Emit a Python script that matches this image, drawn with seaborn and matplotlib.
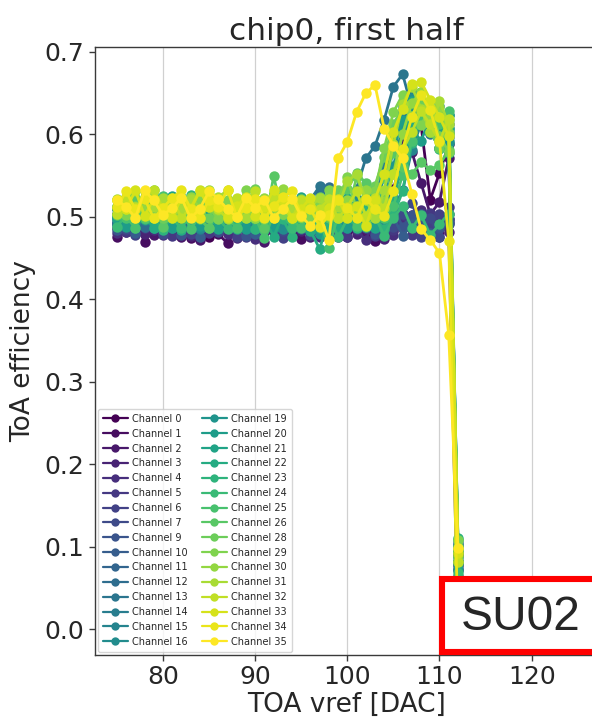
import matplotlib
matplotlib.use("Agg")
import matplotlib.pyplot as plt
from matplotlib.lines import Line2D
from matplotlib.patches import Rectangle
import numpy as np
import pandas as pd
import seaborn as sns

# TOA vref scan points [DAC]
vref = list(range(75, 113))

# ToA efficiency per channel, one value per vref step (75 ... 112)
ch0 = [0.487, 0.501, 0.479, 0.492, 0.503, 0.488, 0.509, 0.481, 0.494, 0.499, 0.476, 0.490, 0.505, 0.486, 0.478, 0.497, 0.489, 0.511, 0.484, 0.480, 0.498, 0.486,
       0.502, 0.491, 0.477, 0.496, 0.488, 0.503, 0.487, 0.512, 0.534, 0.572, 0.603, 0.611, 0.521, 0.553, 0.588, 0.078]
ch1 = [0.476, 0.489, 0.497, 0.469, 0.491, 0.481, 0.500, 0.486, 0.474, 0.493, 0.498, 0.479, 0.468, 0.487, 0.496, 0.475, 0.488, 0.482, 0.501, 0.484, 0.473, 0.490,
       0.481, 0.492, 0.499, 0.476, 0.487, 0.479, 0.471, 0.490, 0.483, 0.494, 0.502, 0.478, 0.489, 0.480, 0.497, 0.072]
ch2 = [0.503, 0.482, 0.491, 0.512, 0.478, 0.497, 0.488, 0.475, 0.501, 0.472, 0.486, 0.499, 0.481, 0.493, 0.508, 0.487, 0.470, 0.492, 0.504, 0.477, 0.489, 0.496,
       0.485, 0.501, 0.476, 0.493, 0.507, 0.484, 0.479, 0.498, 0.558, 0.592, 0.579, 0.541, 0.503, 0.518, 0.571, 0.091]
ch3 = [0.491, 0.498, 0.486, 0.479, 0.502, 0.507, 0.484, 0.496, 0.477, 0.489, 0.503, 0.485, 0.509, 0.474, 0.492, 0.500, 0.481, 0.497, 0.488, 0.506, 0.483, 0.476,
       0.499, 0.474, 0.488, 0.501, 0.479, 0.486, 0.497, 0.473, 0.490, 0.503, 0.485, 0.477, 0.492, 0.498, 0.481, 0.003]
ch4 = [0.480, 0.497, 0.489, 0.503, 0.484, 0.478, 0.499, 0.510, 0.487, 0.475, 0.501, 0.490, 0.479, 0.496, 0.486, 0.473, 0.507, 0.491, 0.477, 0.488, 0.502, 0.485,
       0.476, 0.493, 0.504, 0.511, 0.484, 0.472, 0.498, 0.489, 0.478, 0.492, 0.501, 0.508, 0.483, 0.476, 0.494, 0.083]
ch5 = [0.493, 0.481, 0.508, 0.486, 0.499, 0.490, 0.477, 0.495, 0.510, 0.497, 0.480, 0.488, 0.504, 0.491, 0.476, 0.500, 0.485, 0.502, 0.479, 0.498, 0.487, 0.509,
       0.490, 0.503, 0.486, 0.475, 0.499, 0.492, 0.511, 0.497, 0.484, 0.502, 0.478, 0.491, 0.505, 0.487, 0.512, 0.102]
ch6 = [0.509, 0.487, 0.478, 0.500, 0.492, 0.504, 0.511, 0.485, 0.479, 0.498, 0.513, 0.501, 0.489, 0.476, 0.497, 0.510, 0.502, 0.486, 0.474, 0.499, 0.512, 0.490,
       0.503, 0.488, 0.514, 0.499, 0.485, 0.501, 0.477, 0.492, 0.505, 0.486, 0.497, 0.475, 0.489, 0.503, 0.491, 0.064]
ch7 = [0.498, 0.485, 0.503, 0.514, 0.496, 0.479, 0.490, 0.505, 0.487, 0.512, 0.493, 0.481, 0.500, 0.488, 0.506, 0.484, 0.515, 0.497, 0.483, 0.510, 0.501, 0.478,
       0.516, 0.497, 0.484, 0.509, 0.502, 0.487, 0.499, 0.513, 0.488, 0.504, 0.517, 0.486, 0.498, 0.476, 0.503, 0.088]
ch9 = [0.484, 0.502, 0.513, 0.488, 0.499, 0.493, 0.506, 0.478, 0.491, 0.503, 0.486, 0.515, 0.490, 0.501, 0.477, 0.489, 0.507, 0.485, 0.512, 0.494, 0.500, 0.482,
       0.505, 0.492, 0.501, 0.514, 0.487, 0.499, 0.479, 0.493, 0.511, 0.488, 0.502, 0.490, 0.478, 0.486, 0.497, 0.081]
ch10 = [0.492, 0.505, 0.480, 0.498, 0.487, 0.514, 0.501, 0.489, 0.503, 0.476, 0.497, 0.486, 0.508, 0.516, 0.490, 0.479, 0.502, 0.513, 0.488, 0.499, 0.485, 0.517,
        0.503, 0.521, 0.489, 0.506, 0.492, 0.511, 0.498, 0.484, 0.500, 0.477, 0.491, 0.503, 0.480, 0.489, 0.492, 0.097]
ch11 = [0.511, 0.499, 0.488, 0.504, 0.515, 0.490, 0.502, 0.512, 0.486, 0.497, 0.514, 0.491, 0.505, 0.487, 0.513, 0.500, 0.489, 0.503, 0.516, 0.486, 0.498, 0.502,
        0.491, 0.514, 0.499, 0.487, 0.512, 0.501, 0.490, 0.503, 0.524, 0.563, 0.598, 0.621, 0.603, 0.584, 0.612, 0.074]
ch12 = [0.502, 0.514, 0.497, 0.488, 0.505, 0.516, 0.499, 0.486, 0.511, 0.503, 0.490, 0.501, 0.517, 0.498, 0.487, 0.504, 0.513, 0.496, 0.507, 0.489, 0.515, 0.500,
        0.528, 0.536, 0.512, 0.499, 0.491, 0.503, 0.522, 0.551, 0.592, 0.628, 0.641, 0.619, 0.602, 0.608, 0.597, 0.093]
ch13 = [0.495, 0.503, 0.512, 0.499, 0.488, 0.506, 0.514, 0.497, 0.490, 0.508, 0.515, 0.501, 0.489, 0.511, 0.498, 0.487, 0.504, 0.516, 0.493, 0.502, 0.513, 0.521,
        0.537, 0.512, 0.503, 0.515, 0.534, 0.571, 0.586, 0.618, 0.658, 0.673, 0.632, 0.618, 0.601, 0.612, 0.624, 0.104]
ch14 = [0.501, 0.489, 0.504, 0.515, 0.498, 0.486, 0.512, 0.503, 0.497, 0.485, 0.506, 0.516, 0.491, 0.500, 0.514, 0.502, 0.488, 0.499, 0.523, 0.505, 0.490, 0.497,
        0.511, 0.502, 0.487, 0.501, 0.513, 0.499, 0.521, 0.563, 0.604, 0.637, 0.652, 0.629, 0.611, 0.618, 0.603, 0.082]
ch15 = [0.512, 0.500, 0.491, 0.509, 0.497, 0.513, 0.487, 0.502, 0.516, 0.499, 0.510, 0.488, 0.503, 0.514, 0.496, 0.485, 0.511, 0.501, 0.490, 0.515, 0.498, 0.486,
        0.499, 0.512, 0.501, 0.489, 0.504, 0.516, 0.497, 0.488, 0.509, 0.532, 0.581, 0.613, 0.622, 0.634, 0.608, 0.108]
ch16 = [0.498, 0.512, 0.503, 0.496, 0.487, 0.505, 0.517, 0.521, 0.499, 0.486, 0.504, 0.513, 0.497, 0.489, 0.510, 0.501, 0.519, 0.496, 0.485, 0.503, 0.514, 0.499,
        0.488, 0.501, 0.515, 0.499, 0.522, 0.503, 0.512, 0.548, 0.597, 0.633, 0.644, 0.621, 0.604, 0.583, 0.592, 0.087]
ch19 = [0.490, 0.509, 0.501, 0.513, 0.497, 0.485, 0.502, 0.514, 0.498, 0.522, 0.504, 0.489, 0.511, 0.496, 0.487, 0.503, 0.515, 0.499, 0.524, 0.501, 0.488, 0.512,
        0.497, 0.509, 0.489, 0.502, 0.514, 0.499, 0.523, 0.511, 0.562, 0.608, 0.634, 0.652, 0.627, 0.601, 0.589, 0.099]
ch20 = [0.503, 0.488, 0.512, 0.497, 0.521, 0.501, 0.486, 0.510, 0.499, 0.489, 0.504, 0.523, 0.498, 0.511, 0.485, 0.502, 0.513, 0.487, 0.500, 0.514, 0.497, 0.484,
        0.479, 0.498, 0.513, 0.486, 0.501, 0.515, 0.497, 0.524, 0.583, 0.618, 0.607, 0.592, 0.621, 0.603, 0.578, 0.071]
ch21 = [0.497, 0.511, 0.486, 0.503, 0.514, 0.499, 0.525, 0.501, 0.488, 0.512, 0.502, 0.485, 0.498, 0.521, 0.503, 0.514, 0.487, 0.499, 0.512, 0.496, 0.524, 0.503,
        0.512, 0.487, 0.501, 0.523, 0.510, 0.498, 0.486, 0.511, 0.553, 0.602, 0.641, 0.632, 0.618, 0.597, 0.623, 0.093]
ch22 = [0.509, 0.498, 0.521, 0.502, 0.486, 0.513, 0.499, 0.484, 0.511, 0.503, 0.523, 0.497, 0.512, 0.485, 0.501, 0.522, 0.498, 0.476, 0.502, 0.514, 0.497, 0.483,
        0.461, 0.499, 0.487, 0.511, 0.502, 0.524, 0.509, 0.498, 0.521, 0.568, 0.612, 0.628, 0.603, 0.619, 0.607, 0.079]
ch23 = [0.502, 0.523, 0.497, 0.511, 0.499, 0.484, 0.503, 0.514, 0.526, 0.498, 0.487, 0.501, 0.513, 0.496, 0.524, 0.485, 0.500, 0.512, 0.497, 0.476, 0.503, 0.515,
        0.498, 0.486, 0.513, 0.501, 0.487, 0.512, 0.499, 0.485, 0.502, 0.531, 0.589, 0.622, 0.613, 0.582, 0.601, 0.111]
ch24 = [0.488, 0.502, 0.514, 0.497, 0.524, 0.511, 0.499, 0.486, 0.503, 0.512, 0.526, 0.498, 0.485, 0.501, 0.513, 0.497, 0.484, 0.511, 0.502, 0.487, 0.514, 0.499,
        0.486, 0.503, 0.475, 0.498, 0.512, 0.488, 0.501, 0.477, 0.499, 0.513, 0.486, 0.502, 0.478, 0.491, 0.504, 0.068]
ch25 = [0.512, 0.499, 0.487, 0.513, 0.501, 0.525, 0.498, 0.511, 0.485, 0.502, 0.514, 0.523, 0.499, 0.486, 0.512, 0.500, 0.474, 0.503, 0.515, 0.497, 0.486, 0.511,
        0.498, 0.462, 0.503, 0.514, 0.489, 0.502, 0.522, 0.499, 0.513, 0.551, 0.592, 0.623, 0.641, 0.612, 0.628, 0.094]
ch26 = [0.502, 0.514, 0.523, 0.499, 0.512, 0.488, 0.503, 0.524, 0.511, 0.497, 0.486, 0.513, 0.501, 0.522, 0.498, 0.511, 0.487, 0.549, 0.503, 0.514, 0.499, 0.521,
        0.512, 0.498, 0.521, 0.534, 0.553, 0.541, 0.528, 0.547, 0.578, 0.561, 0.552, 0.566, 0.557, 0.563, 0.581, 0.101]
ch28 = [0.513, 0.524, 0.501, 0.511, 0.532, 0.499, 0.512, 0.503, 0.522, 0.509, 0.498, 0.523, 0.511, 0.500, 0.513, 0.534, 0.497, 0.512, 0.503, 0.521, 0.510, 0.499,
        0.524, 0.512, 0.533, 0.502, 0.548, 0.521, 0.538, 0.572, 0.613, 0.631, 0.622, 0.641, 0.603, 0.584, 0.618, 0.083]
ch29 = [0.521, 0.502, 0.513, 0.524, 0.498, 0.511, 0.523, 0.509, 0.501, 0.522, 0.512, 0.497, 0.521, 0.510, 0.533, 0.499, 0.512, 0.524, 0.503, 0.511, 0.522, 0.498,
        0.513, 0.532, 0.521, 0.548, 0.509, 0.491, 0.531, 0.583, 0.627, 0.648, 0.622, 0.611, 0.632, 0.598, 0.579, 0.108]
ch30 = [0.511, 0.523, 0.531, 0.509, 0.498, 0.521, 0.512, 0.500, 0.524, 0.511, 0.533, 0.508, 0.497, 0.522, 0.510, 0.499, 0.523, 0.512, 0.534, 0.501, 0.513, 0.522,
        0.501, 0.512, 0.498, 0.521, 0.509, 0.532, 0.503, 0.519, 0.552, 0.601, 0.638, 0.652, 0.621, 0.633, 0.602, 0.089]
ch31 = [0.522, 0.510, 0.498, 0.531, 0.512, 0.523, 0.500, 0.511, 0.522, 0.499, 0.513, 0.524, 0.532, 0.510, 0.498, 0.521, 0.512, 0.499, 0.523, 0.511, 0.500, 0.512,
        0.523, 0.501, 0.512, 0.543, 0.552, 0.521, 0.498, 0.532, 0.588, 0.637, 0.658, 0.631, 0.603, 0.641, 0.612, 0.097]
ch32 = [0.503, 0.521, 0.512, 0.523, 0.533, 0.510, 0.522, 0.499, 0.511, 0.532, 0.521, 0.509, 0.498, 0.523, 0.512, 0.531, 0.500, 0.522, 0.511, 0.498, 0.521, 0.513,
        0.509, 0.522, 0.498, 0.512, 0.531, 0.501, 0.523, 0.511, 0.552, 0.581, 0.603, 0.628, 0.612, 0.591, 0.619, 0.081]
ch33 = [0.521, 0.509, 0.532, 0.501, 0.522, 0.511, 0.499, 0.523, 0.510, 0.531, 0.512, 0.522, 0.500, 0.513, 0.524, 0.501, 0.512, 0.533, 0.521, 0.498, 0.510, 0.523,
        0.499, 0.511, 0.522, 0.498, 0.513, 0.489, 0.521, 0.552, 0.603, 0.631, 0.661, 0.664, 0.642, 0.621, 0.598, 0.092]
ch34 = [0.512, 0.531, 0.509, 0.522, 0.498, 0.511, 0.523, 0.532, 0.510, 0.499, 0.521, 0.512, 0.533, 0.500, 0.511, 0.522, 0.498, 0.513, 0.524, 0.531, 0.502, 0.510,
        0.488, 0.502, 0.521, 0.511, 0.499, 0.522, 0.510, 0.501, 0.531, 0.582, 0.621, 0.648, 0.629, 0.592, 0.471, 0.004]
ch35 = [0.521, 0.512, 0.499, 0.532, 0.520, 0.502, 0.511, 0.523, 0.498, 0.510, 0.531, 0.522, 0.509, 0.500, 0.523, 0.511, 0.521, 0.499, 0.510, 0.522, 0.501, 0.489,
        0.502, 0.472, 0.571, 0.591, 0.627, 0.650, 0.660, 0.607, 0.586, 0.571, 0.528, 0.485, 0.472, 0.456, 0.357, 0.098]

channels = [0, 1, 2, 3, 4, 5, 6, 7, 9, 10, 11, 12, 13, 14, 15, 16,
            19, 20, 21, 22, 23, 24, 25, 26, 28, 29, 30, 31, 32, 33, 34, 35]
efficiencies = [ch0, ch1, ch2, ch3, ch4, ch5, ch6, ch7, ch9, ch10, ch11, ch12, ch13, ch14, ch15, ch16,
                ch19, ch20, ch21, ch22, ch23, ch24, ch25, ch26, ch28, ch29, ch30, ch31, ch32, ch33, ch34, ch35]

labels = [f"Channel {c}" for c in channels]
df = pd.DataFrame({
    "vref": np.tile(vref, len(channels)),
    "eff": np.concatenate(efficiencies),
    "channel": np.repeat(labels, len(vref)),
})

cmap = matplotlib.colormaps["viridis"]
colors = [cmap(i / (len(channels) - 1)) for i in range(len(channels))]
palette = dict(zip(labels, colors))

sns.set_theme(style="ticks")
plt.rcParams["font.family"] = ["DejaVu Sans"]
text_col = "#262626"

fig = plt.figure(figsize=(5.92, 7.21), dpi=100)
ax = fig.add_axes([95 / 592, 66 / 721, 503 / 592, 608 / 721])

sns.lineplot(data=df, x="vref", y="eff", hue="channel", hue_order=labels, palette=palette,
             estimator=None, sort=False, marker="o", markersize=7.5, markeredgewidth=0,
             linewidth=2.0, legend=False, ax=ax)

ax.set_xlim(72.62, 127.2)
ax.set_ylim(-0.0315, 0.706)
ax.set_xticks([80, 90, 100, 110, 120])
ax.set_yticks([0.0, 0.1, 0.2, 0.3, 0.4, 0.5, 0.6, 0.7])
ax.xaxis.grid(True, color="#d0d0d0", linewidth=0.9)
ax.yaxis.grid(False)
ax.set_axisbelow(True)
for s in ax.spines.values():
    s.set_color("#3a3a3a")
    s.set_linewidth(1.0)
ax.tick_params(axis="both", labelsize=18, colors=text_col, length=4, width=1.0)
ax.tick_params(axis="both", color="#3a3a3a")

ax.set_xlabel("TOA vref [DAC]", fontsize=19, color=text_col, labelpad=2)
ax.set_ylabel("ToA efficiency", fontsize=19, color=text_col, labelpad=6)
ax.set_title("chip0, first half", fontsize=22.5, color=text_col, pad=5)

handles = [Line2D([], [], color=c, marker="o", markersize=6, markeredgewidth=0, linewidth=1.6)
           for c in colors]
leg = ax.legend(handles, labels, ncol=2, loc="lower left", fontsize=7, frameon=True,
                labelspacing=0.5, handlelength=2.5, handletextpad=0.45,
                columnspacing=1.5, borderaxespad=0.35, borderpad=0.5)
leg.get_frame().set_edgecolor("#cccccc")
for t in leg.get_texts():
    t.set_color(text_col)

# detector label box in the lower right corner
box = Rectangle((442 / 592, (721 - 652) / 721), 200 / 592, 73 / 721, transform=fig.transFigure,
                facecolor="white", edgecolor="red", linewidth=4.4, zorder=10)
fig.add_artist(box)
fig.text(521 / 592, (721 - 618) / 721, "SU02", family="Liberation Sans", fontsize=34.5,
         color=text_col, ha="center", va="center", zorder=11)

fig.savefig("out.png", dpi=100)
